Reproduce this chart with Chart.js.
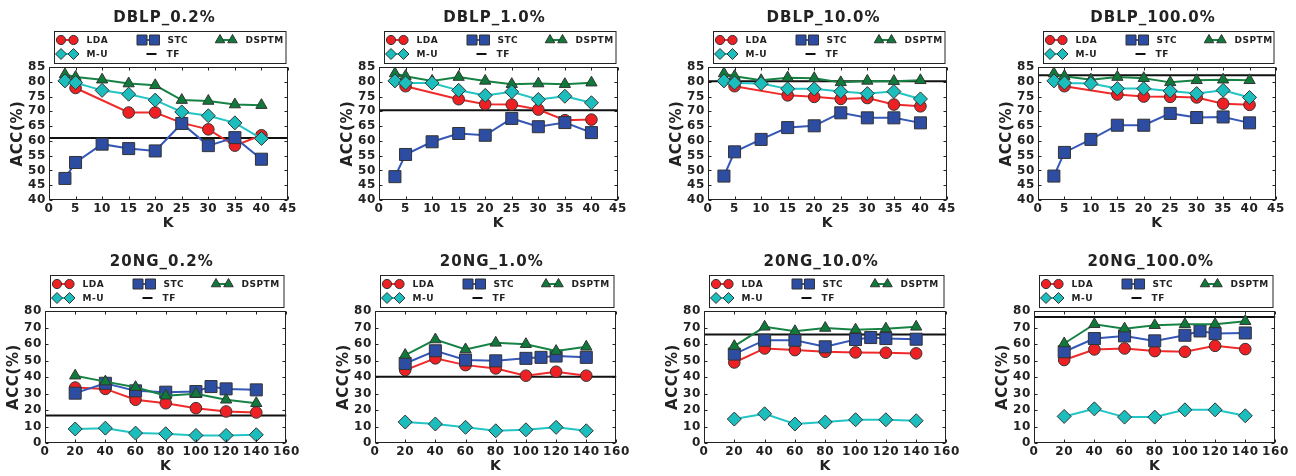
<!DOCTYPE html>
<html>
<head>
<meta charset="utf-8">
<script src="https://cdn.jsdelivr.net/npm/chart.js@4.4.1/dist/chart.umd.min.js"></script>
<style>
  html, body { margin: 0; padding: 0; background: #fff; }
  #wrap { position: relative; width: 1296px; height: 476px; overflow: hidden; }
  canvas { position: absolute; }
</style>
</head>
<body>
<div id="wrap"></div>
<script>
// ---- data ----
const dblpK = [3, 5, 10, 15, 20, 25, 30, 35, 40];
const ngK = [20, 40, 60, 80, 100, 120, 140];
const ngStcK = [20, 40, 60, 80, 100, 110, 120, 140];

const dblpTitles = ['DBLP_0.2%', 'DBLP_1.0%', 'DBLP_10.0%', 'DBLP_100.0%'];
const ngTitles = ['20NG_0.2%', '20NG_1.0%', '20NG_10.0%', '20NG_100.0%'];

const dblpYTicks = [40, 45, 50, 55, 60, 65, 70, 75, 80, 85];
const dblpXTicks = [0, 5, 10, 15, 20, 25, 30, 35, 40, 45];
const ngYTicks = [0, 10, 20, 30, 40, 50, 60, 70, 80];
const ngXTicks = [0, 20, 40, 60, 80, 100, 120, 140, 160];

const dblpLda = [
  [null, 77.9, null, 69.6, 69.6, 66.1, 63.9, 58.4, 61.9],
  [null, 78.5, null, 74.1, 72.4, 72.3, 70.6, 67.0, 67.2],
  [null, 78.5, null, 75.4, 74.9, 74.2, 74.5, 72.3, 71.7],
  [null, 78.5, null, 75.7, 75.0, 74.9, 74.7, 72.6, 72.2]
];
const dblpStc = [
  [47.3, 52.7, 58.9, 57.4, 56.6, 65.9, 58.4, 61.1, 53.8],
  [47.9, 55.4, 59.7, 62.5, 61.9, 67.6, 64.8, 66.2, 62.8],
  [48.1, 56.3, 60.5, 64.5, 65.1, 69.5, 67.8, 67.8, 66.1],
  [48.1, 56.1, 60.5, 65.3, 65.3, 69.3, 67.9, 68.1, 66.1]
];
const dblpDsptm = [
  [82.5, 81.6, 80.7, 79.4, 78.8, 73.8, 73.5, 72.3, 72.1],
  [82.8, 81.9, 80.3, 81.6, 80.3, 79.2, 79.4, 79.2, 79.7],
  [82.8, 81.9, 80.5, 81.4, 81.2, 79.8, 80.3, 80.2, 80.5],
  [82.8, 81.9, 80.7, 81.6, 81.2, 79.8, 80.5, 80.7, 80.5]
];
const dblpMu = [
  [80.3, 79.7, 77.1, 75.8, 73.8, 69.8, 68.5, 66.1, 60.8],
  [80.3, 79.6, 79.6, 77.1, 75.4, 76.6, 74.0, 75.1, 72.9],
  [80.3, 79.6, 79.4, 77.6, 77.6, 76.7, 76.0, 76.7, 74.2],
  [80.3, 79.6, 79.4, 77.7, 77.7, 76.9, 76.0, 77.1, 74.7]
];
const dblpTf = [61.0, 70.4, 80.2, 82.2];

const ngLda = [
  [33.6, 32.8, 26.2, 24.1, 21.1, 19.1, 18.5],
  [44.2, 51.3, 47.2, 45.2, 40.8, 43.2, 40.8],
  [48.8, 57.3, 56.3, 55.3, 54.9, 54.7, 54.3],
  [50.3, 56.7, 57.3, 55.7, 55.3, 58.9, 56.9]
];
const ngStc = [
  [30.2, 36.2, 31.6, 30.8, 31.2, 34.2, 32.8, 32.2],
  [48.2, 55.9, 50.3, 49.8, 51.3, 51.9, 52.7, 51.9],
  [53.9, 62.3, 62.3, 58.3, 62.7, 63.9, 63.3, 62.9],
  [55.3, 63.3, 64.9, 61.9, 65.3, 67.9, 66.3, 66.7]
];
const ngDsptm = [
  [40.8, 37.2, 33.8, 28.6, 29.8, 26.2, 24.1],
  [53.3, 62.7, 56.7, 60.7, 59.9, 55.7, 58.3],
  [58.7, 70.4, 67.7, 69.7, 68.7, 69.3, 70.4],
  [60.3, 72.0, 69.3, 71.4, 72.0, 72.0, 73.8]
];
const ngMu = [
  [8.5, 9.0, 6.0, 5.6, 4.6, 4.6, 5.0],
  [12.7, 11.5, 9.5, 7.4, 8.0, 9.5, 7.4],
  [14.5, 17.7, 11.5, 12.7, 14.1, 14.1, 13.5],
  [16.1, 20.7, 15.7, 15.7, 20.1, 20.1, 16.5]
];
const ngTf = [16.7, 40.2, 65.7, 76.4];

// ---- layout / style ----
const FONT = 'DejaVu Sans';
const INK = '#222';
const topLefts = [49, 379, 708, 1038], topRights = [288, 618, 947, 1276];
const botLefts = [45, 375, 704, 1034], botRights = [287, 617, 947, 1276];
const Y_W = 40, X_H = 32;

const styles = {
  LDA:   { line: '#f02a2a', fill: '#ee2024', shape: 'circle',   r: 5.8, lr: 4.6, order: 3 },
  STC:   { line: '#3557b7', fill: '#2d4da3', shape: 'rect',     r: 8.5, lr: 5,   order: 2 },
  DSPTM: { line: '#168344', fill: '#0f7a3a', shape: 'triangle', r: 6.5, lr: 5.5, order: 1 },
  'M-U': { line: '#22c4c4', fill: '#1cbdbd', shape: 'rectRot',  r: 7,   lr: 5.5, order: 0 }
};

function drawMarker(ctx, shape, x, y, r) {
  ctx.beginPath();
  if (shape === 'circle') {
    ctx.arc(x, y, r, 0, Math.PI * 2);
  } else if (shape === 'rect') {
    ctx.rect(x - r, y - r, 2 * r, 2 * r);
  } else if (shape === 'rectRot') {
    ctx.moveTo(x - r, y); ctx.lineTo(x, y - r); ctx.lineTo(x + r, y); ctx.lineTo(x, y + r);
    ctx.closePath();
  } else {
    ctx.moveTo(x, y - r); ctx.lineTo(x + r * 0.866, y + r * 0.5); ctx.lineTo(x - r * 0.866, y + r * 0.5);
    ctx.closePath();
  }
  ctx.fill();
  ctx.stroke();
}

// title, legend box, axis frame with inward ticks
const decor = {
  id: 'decor',
  beforeDraw(chart) {
    chart.ctx.letterSpacing = '0.6px';
  },
  afterDraw(chart, args, opts) {
    const ctx = chart.ctx;
    const a = chart.chartArea;
    const L = Math.round(a.left) + 0.5, R = Math.round(a.right) - 0.5;
    const T = Math.round(a.top) + 0.5, B = Math.round(a.bottom) - 0.5;
    ctx.save();
    ctx.strokeStyle = INK;
    ctx.lineWidth = 1;
    ctx.strokeRect(L, T, R - L, B - T);
    ctx.beginPath();
    chart.scales.x.ticks.forEach(t => {
      const px = Math.round(chart.scales.x.getPixelForValue(t.value)) + 0.5;
      ctx.moveTo(px, B); ctx.lineTo(px, B - 3);
      ctx.moveTo(px, T); ctx.lineTo(px, T + 3);
    });
    chart.scales.y.ticks.forEach(t => {
      const py = Math.round(chart.scales.y.getPixelForValue(t.value)) + 0.5;
      ctx.moveTo(L, py); ctx.lineTo(L + 3, py);
      ctx.moveTo(R, py); ctx.lineTo(R - 3, py);
    });
    ctx.stroke();

    // title
    ctx.fillStyle = INK;
    ctx.letterSpacing = '1px';
    ctx.font = `bold 15px "${FONT}"`;
    ctx.textAlign = 'center';
    ctx.textBaseline = 'middle';
    ctx.fillText(opts.title, (a.left + a.right) / 2 - 4, a.top - 49);

    // legend
    const bx = Math.round(a.left) + 5.5, by = Math.round(a.top) - 35.5;
    const bw = Math.round(a.right) - 2 - bx, bh = 32;
    ctx.strokeStyle = INK;
    ctx.lineWidth = 1;
    ctx.strokeRect(bx, by, bw, bh);
    ctx.letterSpacing = '0.5px';
    ctx.font = `bold 9px "${FONT}"`;
    ctx.textAlign = 'left';
    const items = [
      ['LDA', 0, 6.5, 8.5], ['STC', 81, 6.5, 8.5], ['DSPTM', 159, 6.5, 8.5], ['M-U', 0, 6.5, 22.5]
    ];
    items.forEach(([name, dx, c1, dy]) => {
      const s = styles[name];
      const x1 = bx + dx + c1, x2 = x1 + 12.5, y = by + dy;
      ctx.strokeStyle = s.line; ctx.lineWidth = 2;
      ctx.beginPath(); ctx.moveTo(x1, y); ctx.lineTo(x2, y); ctx.stroke();
      ctx.fillStyle = s.fill; ctx.strokeStyle = '#333'; ctx.lineWidth = 1;
      drawMarker(ctx, s.shape, x1, y, s.lr);
      drawMarker(ctx, s.shape, x2, y, s.lr);
      ctx.fillStyle = INK;
      ctx.fillText(name, x2 + 13, y + 0.5);
    });
    ctx.strokeStyle = '#111'; ctx.lineWidth = 2;
    ctx.beginPath(); ctx.moveTo(bx + 92, by + 22.5); ctx.lineTo(bx + 102, by + 22.5); ctx.stroke();
    ctx.fillStyle = INK;
    ctx.fillText('TF', bx + 112, by + 23);
    ctx.restore();
  }
};

function series(name, xs, ys) {
  const s = styles[name];
  return {
    label: name,
    data: xs.map((x, j) => ({ x: x, y: ys[j] })),
    borderColor: s.line,
    backgroundColor: s.fill,
    borderWidth: 2,
    pointStyle: s.shape,
    pointRadius: s.r,
    pointBackgroundColor: s.fill,
    pointBorderColor: '#333',
    pointBorderWidth: 1,
    spanGaps: true,
    tension: 0,
    clip: false,
    order: s.order
  };
}

const wrap = document.getElementById('wrap');

function makePanel(opt) {
  const ct = opt.canvasTop, ch = 236;
  const cl = opt.axL - 45, cw = opt.axR - opt.axL + 45 + 14;
  const canvas = document.createElement('canvas');
  canvas.width = cw; canvas.height = ch;
  canvas.style.left = cl + 'px'; canvas.style.top = ct + 'px';
  wrap.appendChild(canvas);

  const xMin = opt.xTicks[0], xMax = opt.xTicks[opt.xTicks.length - 1];
  const yMin = opt.yTicks[0], yMax = opt.yTicks[opt.yTicks.length - 1];
  const tickFont = { family: FONT, size: 12, weight: 'bold' };

  new Chart(canvas, {
    type: 'line',
    data: {
      datasets: [
        series('M-U', opt.k, opt.mu),
        series('DSPTM', opt.k, opt.dsptm),
        series('STC', opt.stcK, opt.stc),
        series('LDA', opt.k, opt.lda),
        {
          label: 'TF',
          data: [{ x: xMin, y: opt.tf }, { x: xMax, y: opt.tf }],
          borderColor: '#111',
          borderWidth: 2,
          pointRadius: 0,
          order: 10
        }
      ]
    },
    options: {
      responsive: false,
      animation: false,
      devicePixelRatio: 1,
      layout: {
        padding: { left: 45 - Y_W, right: 14, top: opt.axT - ct, bottom: ch - (opt.axB - ct) - X_H }
      },
      plugins: {
        legend: { display: false },
        tooltip: { enabled: false },
        decor: { title: opt.title }
      },
      scales: {
        x: {
          type: 'linear', min: xMin, max: xMax,
          afterBuildTicks: s => { s.ticks = opt.xTicks.map(v => ({ value: v })); },
          ticks: { font: tickFont, color: INK, padding: 2, maxRotation: 0, autoSkip: false },
          grid: { display: false, drawTicks: false },
          border: { display: false },
          title: { display: true, text: 'K', color: INK, padding: 0, font: { family: FONT, size: 14, weight: 'bold' } },
          afterFit: s => { s.height = X_H; }
        },
        y: {
          min: yMin, max: yMax,
          afterBuildTicks: s => { s.ticks = opt.yTicks.map(v => ({ value: v })); },
          ticks: { font: tickFont, color: INK, padding: 3, autoSkip: false },
          grid: { display: false, drawTicks: false },
          border: { display: false },
          title: { display: true, text: 'ACC(%)', color: INK, padding: 0, font: { family: FONT, size: 15, weight: 'bold' } },
          afterFit: s => { s.width = Y_W; }
        }
      }
    },
    plugins: [decor]
  });
}

for (let i = 0; i < 4; i++) {
  makePanel({
    title: dblpTitles[i], canvasTop: 0,
    axL: topLefts[i], axR: topRights[i], axT: 67, axB: 200,
    xTicks: dblpXTicks, yTicks: dblpYTicks,
    k: dblpK, stcK: dblpK,
    lda: dblpLda[i], stc: dblpStc[i], dsptm: dblpDsptm[i], mu: dblpMu[i], tf: dblpTf[i]
  });
  makePanel({
    title: ngTitles[i], canvasTop: 240,
    axL: botLefts[i], axR: botRights[i], axT: 311, axB: 443,
    xTicks: ngXTicks, yTicks: ngYTicks,
    k: ngK, stcK: ngStcK,
    lda: ngLda[i], stc: ngStc[i], dsptm: ngDsptm[i], mu: ngMu[i], tf: ngTf[i]
  });
}
</script>
</body>
</html>
